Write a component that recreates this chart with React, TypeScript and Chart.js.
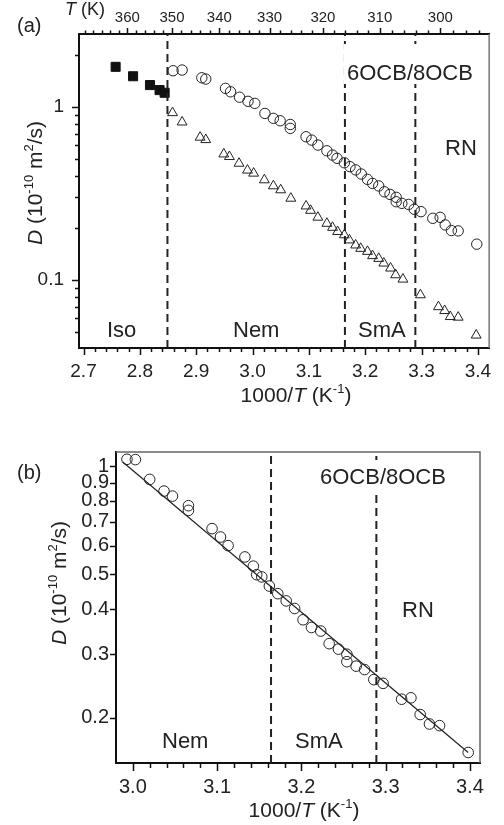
import React, { useEffect, useRef } from 'react';
import { Chart, registerables } from 'chart.js';
Chart.register(...registerables);

const FONT = '"Liberation Sans", Arial, Helvetica, sans-serif';

// ---------- Panel (a) data ----------
const isoX = [2.757, 2.788, 2.818, 2.835, 2.844];
const isoD = [1.70, 1.50, 1.334, 1.248, 1.204];

const circleX = [2.859, 2.875, 2.910, 2.917, 2.952, 2.961, 2.977, 2.992, 3.004, 3.022, 3.037, 3.049, 3.067, 3.067, 3.095, 3.105, 3.116, 3.132, 3.142, 3.150, 3.163, 3.173, 3.183, 3.193, 3.204, 3.213, 3.224, 3.234, 3.244, 3.255, 3.255, 3.265, 3.277, 3.287, 3.299, 3.320, 3.333, 3.342, 3.353, 3.365, 3.398];
const circleD = [1.614, 1.629, 1.47, 1.445, 1.277, 1.22, 1.135, 1.075, 1.046, 0.915, 0.857, 0.83, 0.79, 0.75, 0.671, 0.642, 0.601, 0.557, 0.526, 0.504, 0.475, 0.451, 0.432, 0.409, 0.381, 0.361, 0.349, 0.323, 0.312, 0.300, 0.283, 0.277, 0.273, 0.256, 0.248, 0.227, 0.230, 0.208, 0.193, 0.192, 0.161];

const triX = [2.858, 2.875, 2.907, 2.917, 2.949, 2.959, 2.976, 2.991, 3.002, 3.021, 3.037, 3.050, 3.068, 3.095, 3.103, 3.116, 3.132, 3.142, 3.151, 3.163, 3.172, 3.183, 3.192, 3.204, 3.213, 3.224, 3.233, 3.245, 3.254, 3.267, 3.298, 3.330, 3.341, 3.351, 3.365, 3.397];
const triD = [0.923, 0.815, 0.666, 0.645, 0.533, 0.515, 0.471, 0.430, 0.413, 0.378, 0.349, 0.331, 0.296, 0.267, 0.252, 0.230, 0.212, 0.201, 0.190, 0.182, 0.170, 0.159, 0.152, 0.146, 0.138, 0.133, 0.125, 0.117, 0.107, 0.101, 0.082, 0.070, 0.0665, 0.0614, 0.0609, 0.048];

// ---------- Panel (b) data ----------
const bX = [2.993, 3.003, 3.020, 3.037, 3.047, 3.066, 3.066, 3.094, 3.104, 3.113, 3.133, 3.143, 3.147, 3.153, 3.162, 3.172, 3.182, 3.192, 3.202, 3.212, 3.223, 3.233, 3.244, 3.254, 3.254, 3.265, 3.275, 3.286, 3.297, 3.319, 3.330, 3.341, 3.352, 3.364, 3.398];
const bD = [1.044, 1.042, 0.918, 0.852, 0.825, 0.776, 0.753, 0.670, 0.635, 0.601, 0.559, 0.527, 0.499, 0.492, 0.464, 0.442, 0.422, 0.402, 0.374, 0.356, 0.348, 0.321, 0.310, 0.300, 0.286, 0.278, 0.272, 0.255, 0.249, 0.225, 0.227, 0.204, 0.192, 0.190, 0.160];
const fitX = [2.988, 3.398];
const fitD = [1.026, 0.160];

// phase transitions (1000/T)
const transA = [2.849, 3.164, 3.289];
const transB = [3.164, 3.289];

// ---------- ticks ----------
const xMajorA = [2.7, 2.8, 2.9, 3.0, 3.1, 3.2, 3.3, 3.4];
const yMajorA = [0.1, 1];
const yMinorA = [0.05, 0.06, 0.07, 0.08, 0.09, 0.2, 0.3, 0.4, 0.5, 0.6, 0.7, 0.8, 0.9, 2];
const tempLabels = [360, 350, 340, 330, 320, 310, 300];
const xMajorB = [3.0, 3.1, 3.2, 3.3, 3.4];
const yLabelsB = [0.2, 0.3, 0.4, 0.5, 0.6, 0.7, 0.8, 0.9, 1];

const X_MIN_A = 2.692, X_MAX_A = 3.42, Y_MIN_A = 0.0405, Y_MAX_A = 2.63;
const X_MIN_B = 2.980, X_MAX_B = 3.412, Y_MIN_B = 0.1496, Y_MAX_B = 1.094;

const near = (a: number, b: number) => Math.abs(a - b) < 1e-6;
const pts = (xs: number[], ys: number[]) => xs.map((x, i) => ({ x, y: ys[i] }));

function stepTicks(a: number, b: number, step: number) {
  const out: number[] = [];
  const n = Math.round((b - a) / step);
  for (let i = 0; i <= n; i++) out.push(+(a + i * step).toFixed(4));
  return out;
}

type Run = { t: string; it?: boolean; sup?: boolean };

function drawRuns(ctx: CanvasRenderingContext2D, runs: Run[], x: number, y: number, size: number, align: 'left' | 'center') {
  ctx.save();
  ctx.textBaseline = 'alphabetic';
  ctx.textAlign = 'left';
  ctx.fillStyle = '#222';
  const sub = Math.round(size * 0.62);
  const fnt = (r: Run) => `${r.it ? 'italic ' : ''}${r.sup ? sub : size}px ${FONT}`;
  let w = 0;
  for (const r of runs) { ctx.font = fnt(r); w += ctx.measureText(r.t).width; }
  let cx = align === 'center' ? x - w / 2 : x;
  for (const r of runs) {
    ctx.font = fnt(r);
    ctx.fillText(r.t, cx, r.sup ? y - size * 0.42 : y);
    cx += ctx.measureText(r.t).width;
  }
  ctx.restore();
}

function drawRotated(ctx: CanvasRenderingContext2D, runs: Run[], bx: number, cy: number, size: number) {
  ctx.save();
  ctx.translate(bx, cy);
  ctx.rotate(-Math.PI / 2);
  drawRuns(ctx, runs, 0, 0, size, 'center');
  ctx.restore();
}

const xTitle: Run[] = [{ t: '1000/' }, { t: 'T', it: true }, { t: ' (K' }, { t: '-1', sup: true }, { t: ')' }];
const yTitle: Run[] = [{ t: 'D', it: true }, { t: ' (10' }, { t: '-10', sup: true }, { t: ' m' }, { t: '2', sup: true }, { t: '/s)' }];

function tickMarks(chart: any, spec: { id: string; side: 'bottom' | 'top' | 'left'; maj: number; min: number }[]) {
  const ctx = chart.ctx as CanvasRenderingContext2D;
  const a = chart.chartArea;
  ctx.save();
  ctx.strokeStyle = '#111';
  ctx.lineWidth = 1.5;
  ctx.beginPath();
  for (const s of spec) {
    const sc = chart.scales[s.id];
    for (const t of sc.ticks) {
      const p = Math.round(sc.getPixelForValue(t.value)) + 0.5;
      const len = t.label !== '' && t.label != null ? s.maj : s.min;
      if (s.side === 'bottom') { ctx.moveTo(p, a.bottom); ctx.lineTo(p, a.bottom + len); }
      else if (s.side === 'top') { ctx.moveTo(p, a.top); ctx.lineTo(p, a.top - len); }
      else { ctx.moveTo(a.left, p); ctx.lineTo(a.left - len, p); }
    }
  }
  ctx.stroke();
  ctx.restore();
}

function label(ctx: CanvasRenderingContext2D, text: string, x: number, y: number, size: number, box?: number[]) {
  ctx.save();
  if (box) { ctx.fillStyle = '#fff'; ctx.fillRect(box[0], box[1], box[2], box[3]); }
  ctx.fillStyle = '#222';
  ctx.font = `${size}px ${FONT}`;
  ctx.textBaseline = 'alphabetic';
  ctx.textAlign = 'left';
  ctx.fillText(text, x, y);
  ctx.restore();
}

function vline(x: number, y0: number, y1: number) {
  return {
    type: 'line', showLine: true, data: [{ x, y: y0 }, { x, y: y1 }],
    borderColor: '#222', borderWidth: 2, borderDash: [8, 5], pointRadius: 0, fill: false,
  } as any;
}

function buildTop(canvas: HTMLCanvasElement) {
  const xTicks = stepTicks(2.70, 3.40, 0.02);
  const tTicks: number[] = [];
  for (let T = 370; T >= 294; T -= 2) tTicks.push(1000 / T);
  const yTicks = [...yMinorA, ...yMajorA].sort((p, q) => p - q);

  const plugin = {
    id: 'decorA',
    afterDatasetsDraw(chart: any) {
      const ctx = chart.ctx as CanvasRenderingContext2D;
      const a = chart.chartArea;
      tickMarks(chart, [
        { id: 'x', side: 'bottom', maj: 7, min: 4 },
        { id: 'x2', side: 'top', maj: 6, min: 3.5 },
        { id: 'y', side: 'left', maj: 7, min: 4 },
      ]);
      ctx.save();
      ctx.strokeStyle = '#777';
      ctx.lineWidth = 1.5;
      ctx.beginPath();
      ctx.moveTo(a.right, a.top); ctx.lineTo(a.right, a.bottom);
      ctx.stroke();
      ctx.restore();
      label(ctx, '6OCB/8OCB', 347, 80, 22, [344, 44, 132, 40]);
      label(ctx, 'RN', 445, 155, 22);
      label(ctx, 'Iso', 107, 337, 22);
      label(ctx, 'Nem', 233, 337, 22);
      label(ctx, 'SmA', 358, 337, 22);
      label(ctx, '(a)', 17, 32, 20);
      drawRuns(ctx, [{ t: 'T', it: true }, { t: ' (K)' }], 65, 15, 18, 'left');
      drawRuns(ctx, xTitle, 296, 402, 21, 'center');
      drawRotated(ctx, yTitle, 42, 183, 21);
    },
  };

  return new Chart(canvas, {
    type: 'scatter',
    data: {
      datasets: [
        ...transA.map((v) => vline(v, Y_MIN_A, Y_MAX_A)),
        { data: pts(isoX, isoD), pointStyle: 'rect', pointRadius: 6.4, backgroundColor: '#111', borderColor: '#111', borderWidth: 1 },
        { data: pts(circleX, circleD), pointStyle: 'circle', pointRadius: 5.2, backgroundColor: 'rgba(0,0,0,0)', borderColor: '#222', borderWidth: 1 },
        { data: pts(triX, triD), pointStyle: 'triangle', pointRadius: 5.7, backgroundColor: 'rgba(0,0,0,0)', borderColor: '#222', borderWidth: 1 },
      ] as any,
    },
    options: {
      animation: false, responsive: false, devicePixelRatio: 1, events: [],
      layout: { padding: { left: 0, right: 11, top: 0, bottom: 0 } },
      plugins: { legend: { display: false }, tooltip: { enabled: false } },
      scales: {
        x: {
          type: 'linear', position: 'bottom', min: X_MIN_A, max: X_MAX_A,
          grid: { display: false, drawTicks: false },
          border: { display: true, color: '#111', width: 2 },
          ticks: {
            autoSkip: false, maxRotation: 0, padding: 12.5, color: '#222', font: { family: FONT, size: 19 },
            callback: (v: any) => { const m = xMajorA.find((q) => near(q, +v)); return m !== undefined ? m.toFixed(1) : ''; },
          },
          afterBuildTicks: (s: any) => { s.ticks = xTicks.map((v) => ({ value: v })); },
          afterFit: (s: any) => { s.height = 67; },
        },
        x2: {
          type: 'linear', axis: 'x', position: 'top', min: X_MIN_A, max: X_MAX_A,
          grid: { display: false, drawTicks: false },
          border: { display: true, color: '#111', width: 2 },
          ticks: {
            autoSkip: false, maxRotation: 0, padding: 7, color: '#222', font: { family: FONT, size: 15 },
            callback: (v: any) => { const T = Math.round(1000 / +v); return tempLabels.includes(T) && Math.abs(1000 / T - +v) < 1e-6 ? String(T) : ''; },
          },
          afterBuildTicks: (s: any) => { s.ticks = tTicks.map((v) => ({ value: v })); },
          afterFit: (s: any) => { s.height = 34; },
        },
        y: {
          type: 'logarithmic', position: 'left', min: Y_MIN_A, max: Y_MAX_A,
          grid: { display: false, drawTicks: false },
          border: { display: true, color: '#111', width: 2 },
          ticks: {
            autoSkip: false, padding: 15, color: '#222', font: { family: FONT, size: 19 },
            callback: (v: any) => { const m = yMajorA.find((q) => near(q, +v)); return m !== undefined ? String(m) : ''; },
          },
          afterBuildTicks: (s: any) => { s.ticks = yTicks.map((v) => ({ value: v })); },
          afterFit: (s: any) => { s.width = 79; },
        },
      } as any,
    },
    plugins: [plugin],
  } as any);
}

function buildBottom(canvas: HTMLCanvasElement) {
  const xTicks = stepTicks(3.00, 3.40, 0.02);

  const plugin = {
    id: 'decorB',
    afterDatasetsDraw(chart: any) {
      const ctx = chart.ctx as CanvasRenderingContext2D;
      const a = chart.chartArea;
      tickMarks(chart, [
        { id: 'x', side: 'bottom', maj: 8, min: 5 },
        { id: 'y', side: 'left', maj: 6, min: 6 },
      ]);
      ctx.save();
      ctx.strokeStyle = '#666';
      ctx.lineWidth = 1.5;
      ctx.beginPath();
      ctx.moveTo(a.left, a.top); ctx.lineTo(a.right, a.top); ctx.lineTo(a.right, a.bottom);
      ctx.stroke();
      ctx.restore();
      label(ctx, '6OCB/8OCB', 320, 69, 22, [318, 45, 134, 30]);
      label(ctx, 'RN', 402, 202, 22);
      label(ctx, 'Nem', 162, 333, 22);
      label(ctx, 'SmA', 295, 333, 22);
      label(ctx, '(b)', 17, 64, 20);
      drawRuns(ctx, xTitle, 304, 402, 21, 'center');
      drawRotated(ctx, yTitle, 66, 168, 21);
    },
  };

  return new Chart(canvas, {
    type: 'scatter',
    data: {
      datasets: [
        ...transB.map((v) => vline(v, Y_MIN_B, Y_MAX_B)),
        { type: 'line', showLine: true, data: pts(fitX, fitD), borderColor: '#222', borderWidth: 1.2, pointRadius: 0, fill: false },
        { data: pts(bX, bD), pointStyle: 'circle', pointRadius: 5.3, backgroundColor: 'rgba(0,0,0,0)', borderColor: '#222', borderWidth: 1 },
      ] as any,
    },
    options: {
      animation: false, responsive: false, devicePixelRatio: 1, events: [],
      layout: { padding: { left: 0, right: 24, top: 37, bottom: 0 } },
      plugins: { legend: { display: false }, tooltip: { enabled: false } },
      scales: {
        x: {
          type: 'linear', position: 'bottom', min: X_MIN_B, max: X_MAX_B,
          grid: { display: false, drawTicks: false },
          border: { display: true, color: '#111', width: 2 },
          ticks: {
            autoSkip: false, maxRotation: 0, padding: 12.5, color: '#222', font: { family: FONT, size: 20 },
            callback: (v: any) => { const m = xMajorB.find((q) => near(q, +v)); return m !== undefined ? m.toFixed(1) : ''; },
          },
          afterBuildTicks: (s: any) => { s.ticks = xTicks.map((v) => ({ value: v })); },
          afterFit: (s: any) => { s.height = 62; },
        },
        y: {
          type: 'logarithmic', position: 'left', min: Y_MIN_B, max: Y_MAX_B,
          grid: { display: false, drawTicks: false },
          border: { display: true, color: '#111', width: 2 },
          ticks: {
            autoSkip: false, padding: 7, color: '#222', font: { family: FONT, size: 20 },
            callback: (v: any) => { const m = yLabelsB.find((q) => near(q, +v)); return m !== undefined ? String(m) : ''; },
          },
          afterBuildTicks: (s: any) => { s.ticks = yLabelsB.map((v) => ({ value: v })); },
          afterFit: (s: any) => { s.width = 116; },
        },
      } as any,
    },
    plugins: [plugin],
  } as any);
}

export default function App() {
  const topRef = useRef<HTMLCanvasElement>(null);
  const botRef = useRef<HTMLCanvasElement>(null);
  useEffect(() => {
    const c1 = buildTop(topRef.current!);
    const c2 = buildBottom(botRef.current!);
    return () => { c1.destroy(); c2.destroy(); };
  }, []);
  return (
    <div style={{ position: 'absolute', left: 0, top: 0, width: 504, height: 825, background: '#fff' }}>
      <canvas ref={topRef} width={504} height={415} style={{ position: 'absolute', left: 0, top: 0, width: 504, height: 415 }} />
      <canvas ref={botRef} width={504} height={410} style={{ position: 'absolute', left: 0, top: 415, width: 504, height: 410 }} />
    </div>
  );
}
